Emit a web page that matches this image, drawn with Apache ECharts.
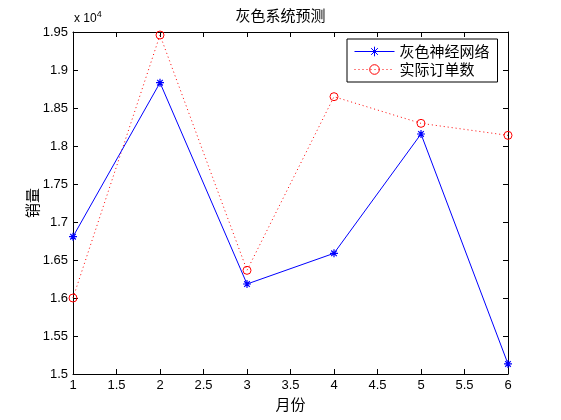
<!DOCTYPE html>
<html><head><meta charset="utf-8">
<script src="https://cdn.jsdelivr.net/npm/echarts@6/dist/echarts.min.js"></script>
<style>html,body{margin:0;padding:0;background:#fff}#c{width:561px;height:420px}</style>
</head><body><div id="c"></div>
<script>
var months = [1, 2, 3, 4, 5, 6];
var greyNN = [16807, 18833, 16184, 16588, 18158, 15132];
var actual = [16000, 19460, 16364, 18649, 18298, 18140];
var yTickLabels = ['1.5','1.55','1.6','1.65','1.7','1.75','1.8','1.85','1.9','1.95'];
var seriesNames = ['灰色神经网络', '实际订单数'];

var FONT = '"Liberation Sans", Arial, "Noto Sans CJK SC", sans-serif';
var CJK = '"Noto Sans CJK SC", sans-serif';
var star = 'path://M0,5L10,5M5,0L5,10M1.5,1.5L8.5,8.5M8.5,1.5L1.5,8.5';

function pairs(ys){ return months.map(function(m,i){ return [m, ys[i]]; }); }

var chart = echarts.init(document.getElementById('c'), null, {renderer:'canvas'});
var axisLine = {show:true, lineStyle:{color:'#000', width:1}};
var tick = {show:true, inside:true, length:5, lineStyle:{color:'#000', width:1}};
chart.setOption({
  animation:false,
  backgroundColor:'#fff',
  color:['#0000ff', '#ff0000'],
  title:{text:'灰色系统预测', left:'center', top:8, padding:0,
    textStyle:{fontFamily:CJK, fontSize:15, fontWeight:'normal', color:'#000'}},
  grid:{left:73, right:53, top:32, bottom:46, containLabel:false},
  legend:{
    orient:'vertical', left:347, top:39, padding:[5,8,5,7], itemGap:3,
    itemWidth:40, itemHeight:12, borderColor:'#000', borderWidth:1, backgroundColor:'#fff',
    textStyle:{fontFamily:CJK, fontSize:15, color:'#000'},
    lineStyle:{width:1},
    itemStyle:{borderWidth:1},
    data:seriesNames
  },
  xAxis:[{
    type:'value', min:1, max:6, interval:0.5, position:'bottom',
    axisLine:axisLine, axisTick:tick, splitLine:{show:false},
    axisLabel:{fontFamily:FONT, fontSize:13, color:'#000', margin:5},
    name:'月份', nameLocation:'middle', nameGap:23, nameMoveOverlap:false,
    nameTextStyle:{fontFamily:CJK, fontSize:15, color:'#000'}
  },{
    type:'value', min:1, max:6, interval:0.5, position:'top',
    axisLine:axisLine, axisTick:tick, axisLabel:{show:false}, splitLine:{show:false}
  }],
  yAxis:[{
    type:'value', min:15000, max:19500, interval:500, position:'left',
    axisLine:axisLine, axisTick:tick, splitLine:{show:false},
    axisLabel:{fontFamily:FONT, fontSize:13, color:'#000', margin:5,
      formatter:function(v){ return yTickLabels[Math.round((v-15000)/500)]; }},
    name:'销量', nameLocation:'middle', nameGap:33, nameRotate:90, nameMoveOverlap:false,
    nameTextStyle:{fontFamily:CJK, fontSize:15, color:'#000'}
  },{
    type:'value', min:15000, max:19500, interval:500, position:'right',
    axisLine:axisLine, axisTick:tick, axisLabel:{show:false}, splitLine:{show:false}
  }],
  graphic:[{
    type:'text', left:74, top:10,
    style:{text:'x 10{s|4}', fill:'#000', font:'12px '+FONT,
      rich:{s:{fontSize:9, fontFamily:FONT, verticalAlign:'top', padding:[0,0,8,0]}}}
  }],
  series:[{
    name:seriesNames[0], type:'line', data:pairs(greyNN),
    symbol:star, symbolSize:8, showAllSymbol:true,
    lineStyle:{color:'#0000ff', width:1, type:'solid'},
    itemStyle:{color:'none', borderColor:'#0000ff', borderWidth:1.2},
    z:3
  },{
    name:seriesNames[1], type:'line', data:pairs(actual),
    symbol:'circle', symbolSize:8, showAllSymbol:true,
    lineStyle:{color:'#ff0000', width:1, type:[1,3]},
    itemStyle:{color:'none', borderColor:'#ff0000', borderWidth:1},
    z:2
  }]
});
</script></body></html>
